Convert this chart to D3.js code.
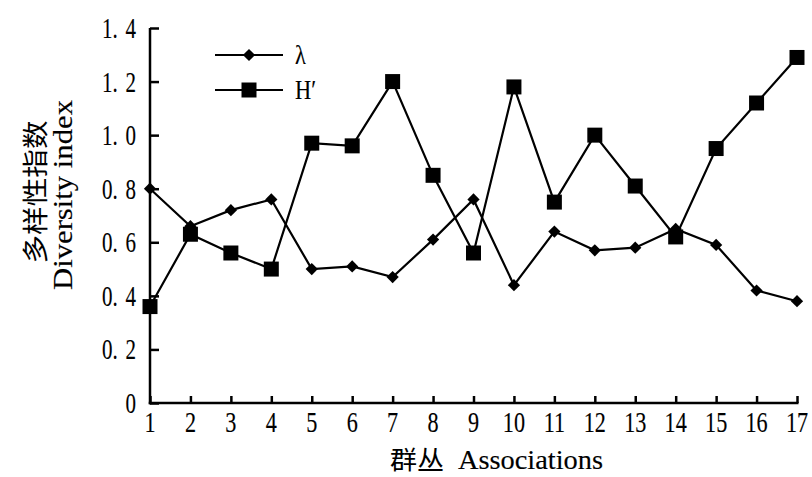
<!DOCTYPE html>
<html><head><meta charset="utf-8">
<script src="https://cdn.jsdelivr.net/npm/d3@7"></script>
<style>body{margin:0;background:#fff} text.sf{stroke:#000;stroke-width:0.15px}</style>
</head><body>
<svg id="c" width="812" height="477"></svg>
<script>
const categories = [1,2,3,4,5,6,7,8,9,10,11,12,13,14,15,16,17];
const lambdaValues = [0.80,0.66,0.72,0.76,0.50,0.51,0.47,0.61,0.76,0.44,0.64,0.57,0.58,0.65,0.59,0.42,0.38];
const hValues = [0.36,0.63,0.56,0.50,0.97,0.96,1.20,0.85,0.56,1.18,0.75,1.00,0.81,0.62,0.95,1.12,1.29];
const yTicks = [0,0.2,0.4,0.6,0.8,1.0,1.2,1.4];
const seriesNames = ["λ","H′"];

const svg = d3.select("#c");
const serif = "'Liberation Serif','Times New Roman',serif";
const cjk = "'Noto Sans CJK SC',sans-serif";
const x = d3.scaleLinear().domain([1,17]).range([150,797]);
const y = d3.scaleLinear().domain([0,1.4]).range([403,28]);

// axes (lines and ticks)
const gx = svg.append("g").attr("transform","translate(0,403)")
  .call(d3.axisBottom(x).tickValues(categories).tickSizeInner(-7).tickSizeOuter(0).tickFormat(""));
const gy = svg.append("g").attr("transform","translate(150,0)")
  .call(d3.axisLeft(y).tickValues(yTicks).tickSizeInner(-9).tickSizeOuter(0).tickFormat(""));
[gx,gy].forEach(g=>{
  g.select(".domain").attr("stroke","#000").attr("stroke-width",2.5);
  g.selectAll(".tick line").attr("stroke","#000").attr("stroke-width",2.5);
});
gx.select(".domain").attr("d","M148.75,0H798.5");
gy.select(".domain").attr("d","M0,404.25V28");

// tick labels (condensed serif look)
svg.append("g").selectAll("g").data(categories).join("g")
  .attr("transform",d=>`translate(${x(d)},432)`)
  .append("text").attr("class","sf").attr("transform","scale(0.74,1)").attr("text-anchor","middle")
  .style("font-family",serif).style("font-size","30px").attr("fill","#000")
  .text(d=>d3.format("d")(d));

const yl = svg.append("g").selectAll("g").data(yTicks).join("g")
  .attr("transform",d=>`translate(136,${y(d)+10})`)
  .append("text").attr("class","sf").attr("transform","scale(0.7,1)").attr("text-anchor","end")
  .style("font-family",serif).style("font-size","30px").attr("fill","#000");
yl.each(function(d){
  const t = d3.select(this);
  if (d === 0) { t.text("0"); return; }
  const s = d3.format(".1f")(d).split(".");
  t.append("tspan").text(s[0] + ".");
  t.append("tspan").attr("dx",11).text(s[1]);
});

const line = d3.line().x((d,i)=>x(categories[i])).y(d=>y(d));
const diamond = {draw(ctx,s){const r=Math.sqrt(s)/2*1.25;ctx.moveTo(0,-r);ctx.lineTo(r,0);ctx.lineTo(0,r);ctx.lineTo(-r,0);ctx.closePath();}};
function drawSeries(vals, shape, size){
  svg.append("path").datum(vals).attr("d",line).attr("fill","none").attr("stroke","#000").attr("stroke-width",2.2);
  svg.append("g").selectAll("path").data(vals).join("path")
    .attr("transform",(d,i)=>`translate(${x(categories[i])},${y(d)})`)
    .attr("d", d3.symbol().type(shape).size(size)).attr("fill","#000");
}
drawSeries(lambdaValues, diamond, 96);
drawSeries(hValues, d3.symbolSquare, 225);

// legend
const leg = [{name:seriesNames[0],shape:diamond,size:96,yy:55},{name:seriesNames[1],shape:d3.symbolSquare,size:225,yy:90}];
leg.forEach(l=>{
  svg.append("line").attr("x1",215).attr("x2",283).attr("y1",l.yy).attr("y2",l.yy).attr("stroke","#000").attr("stroke-width",2.2);
  svg.append("path").attr("transform",`translate(249,${l.yy})`).attr("d",d3.symbol().type(l.shape).size(l.size)).attr("fill","#000");
  svg.append("g").attr("transform",`translate(295,${l.yy+9})`)
    .append("text").attr("class","sf").attr("transform","scale(0.8,1)").text(l.name)
    .style("font-family",serif).style("font-size","28px").attr("fill","#000");
});

// axis titles
svg.append("text").attr("x",390).attr("y",469).attr("textLength",54).attr("lengthAdjust","spacingAndGlyphs")
  .style("font-family",cjk).style("font-size","25px").attr("fill","#000").text("群丛");
svg.append("text").attr("class","sf").attr("x",458).attr("y",469).attr("textLength",145).attr("lengthAdjust","spacingAndGlyphs")
  .style("font-family",serif).style("font-size","28px").attr("fill","#000").text("Associations");

const yt = svg.append("g").attr("transform","rotate(-90)");
yt.append("text").attr("x",-192).attr("y",45).attr("text-anchor","middle").attr("textLength",143).attr("lengthAdjust","spacingAndGlyphs")
  .style("font-family",cjk).style("font-size","26px").attr("fill","#000").text("多样性指数");
yt.append("text").attr("class","sf").attr("x",-195).attr("y",72).attr("text-anchor","middle").attr("textLength",190).attr("lengthAdjust","spacingAndGlyphs")
  .style("font-family",serif).style("font-size","28px").attr("fill","#000").text("Diversity index");
</script>
</body></html>
